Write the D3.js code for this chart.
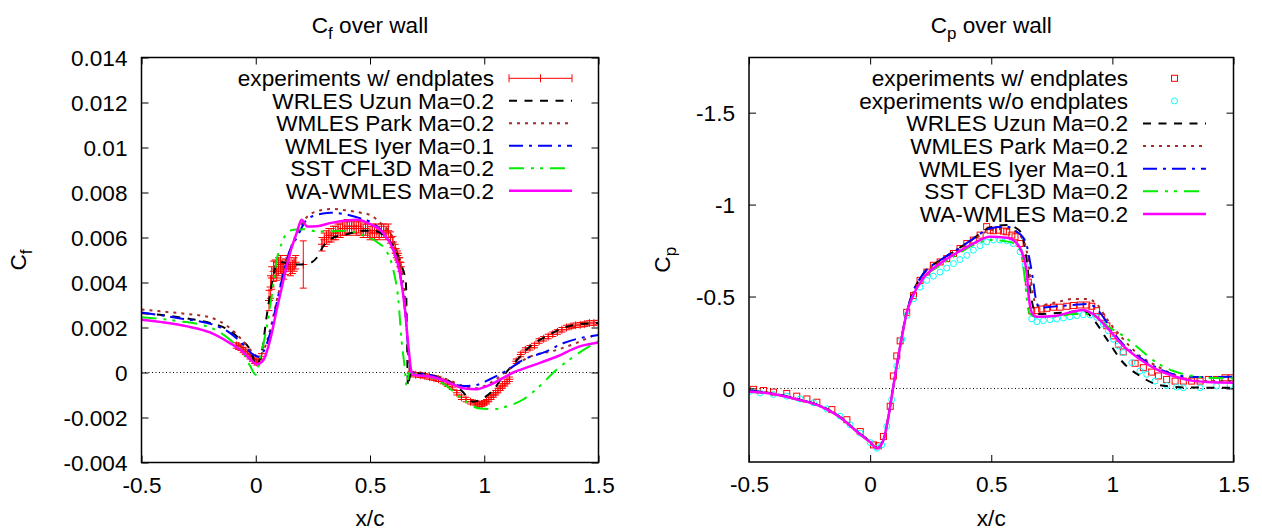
<!DOCTYPE html>
<html>
<head>
<meta charset="utf-8">
<script src="https://cdn.jsdelivr.net/npm/d3@7"></script>
<style>
  html, body { margin: 0; padding: 0; background: #fff; }
  svg { display: block; font-family: "Liberation Sans", Arial, Helvetica, sans-serif; }
</style>
</head>
<body>
<svg id="chart" width="1262" height="532"></svg>
<script>
// ---------- axis ticks ----------
const xTickValues = [-0.5, 0, 0.5, 1, 1.5];
const xTickLabels = ["-0.5", "0", "0.5", "1", "1.5"];
const cfTickValues = [-0.004, -0.002, 0, 0.002, 0.004, 0.006, 0.008, 0.01, 0.012, 0.014];
const cfTickLabels = ["-0.004", "-0.002", "0", "0.002", "0.004", "0.006", "0.008", "0.01", "0.012", "0.014"];
const cpTickValues = [-1.5, -1, -0.5, 0];
const cpTickLabels = ["-1.5", "-1", "-0.5", "0"];

// ---------- legend labels ----------
const cfLegend = ["experiments w/ endplates", "WRLES Uzun Ma=0.2", "WMLES Park Ma=0.2",
                  "WMLES Iyer Ma=0.1", "SST CFL3D Ma=0.2", "WA-WMLES Ma=0.2"];
const cpLegend = ["experiments w/ endplates", "experiments w/o endplates", "WRLES Uzun Ma=0.2",
                  "WMLES Park Ma=0.2", "WMLES Iyer Ma=0.1", "SST CFL3D Ma=0.2", "WA-WMLES Ma=0.2"];

// ---------- skin friction, Cf(x/c) ----------
// experiments w/ endplates: [x/c, Cf, error]
const cfExp = [
  [-0.085,0.00120,0.00012],[-0.075,0.00115,0.00012],[-0.065,0.00110,0.00012],[-0.055,0.00100,0.00012],
  [-0.045,0.00092,0.00012],[-0.035,0.00082,0.00012],[-0.025,0.00072,0.00012],[-0.015,0.00062,0.00012],
  [-0.005,0.00052,0.00012],[0.005,0.00045,0.00012],[0.015,0.00058,0.00012],[0.025,0.00072,0.00012],
  [0.058,0.00320,0.00045],[0.065,0.00380,0.00050],[0.070,0.00420,0.00050],[0.078,0.00450,0.00045],
  [0.085,0.00460,0.00040],[0.092,0.00450,0.00040],[0.100,0.00470,0.00040],[0.108,0.00480,0.00040],
  [0.115,0.00460,0.00040],[0.122,0.00450,0.00035],[0.130,0.00470,0.00035],[0.138,0.00490,0.00030],
  [0.145,0.00480,0.00030],[0.152,0.00460,0.00030],[0.160,0.00470,0.00030],[0.168,0.00480,0.00030],
  [0.175,0.00490,0.00030],[0.208,0.00480,0.00105],
  [0.290,0.00570,0.00030],[0.300,0.00590,0.00030],[0.310,0.00600,0.00030],[0.320,0.00610,0.00030],
  [0.330,0.00610,0.00030],[0.340,0.00620,0.00030],[0.350,0.00620,0.00030],[0.360,0.00630,0.00030],
  [0.370,0.00630,0.00030],[0.380,0.00640,0.00030],[0.390,0.00640,0.00030],[0.400,0.00650,0.00030],
  [0.410,0.00640,0.00030],[0.420,0.00650,0.00030],[0.430,0.00650,0.00030],[0.440,0.00640,0.00030],
  [0.450,0.00650,0.00030],[0.460,0.00640,0.00030],[0.470,0.00630,0.00030],[0.480,0.00640,0.00030],
  [0.490,0.00630,0.00030],[0.500,0.00620,0.00030],[0.510,0.00630,0.00030],[0.520,0.00620,0.00030],
  [0.530,0.00630,0.00030],[0.540,0.00620,0.00030],[0.550,0.00630,0.00030],[0.560,0.00630,0.00030],
  [0.570,0.00620,0.00030],[0.580,0.00630,0.00030],[0.590,0.00600,0.00025],[0.600,0.00580,0.00025],
  [0.610,0.00550,0.00020],[0.615,0.00530,0.00020],[0.620,0.00520,0.00020],[0.625,0.00510,0.00020],
  [0.630,0.00490,0.00020],[0.635,0.00470,0.00020],
  [0.680,-0.00005,0.0001],[0.700,-0.00010,0.0001],[0.720,-0.00012,0.0001],[0.740,-0.00015,0.0001],
  [0.760,-0.00020,0.0001],[0.780,-0.00025,0.0001],[0.800,-0.00030,0.0001],[0.820,-0.00040,0.0001],
  [0.840,-0.00052,0.0001],[0.860,-0.00065,0.0001],[0.880,-0.00090,0.0001],[0.900,-0.00110,0.0001],
  [0.920,-0.00120,0.0001],[0.940,-0.00130,0.0001],[0.960,-0.00135,0.0001],[0.970,-0.00140,0.0001],
  [0.980,-0.00142,0.0001],[0.990,-0.00140,0.0001],[1.000,-0.00135,0.0001],[1.010,-0.00130,0.0001],
  [1.020,-0.00120,0.0001],[1.030,-0.00110,0.0001],[1.040,-0.00100,0.0001],[1.050,-0.00090,0.0001],
  [1.060,-0.00080,0.0001],[1.070,-0.00070,0.0001],[1.080,-0.00060,0.0001],[1.090,-0.00050,0.0001],
  [1.100,-0.00040,0.0001],[1.110,-0.00030,0.0001],
  [1.140,0.00050,0.0001],[1.160,0.00080,0.0001],[1.180,0.00100,0.0001],[1.200,0.00110,0.0001],
  [1.220,0.00120,0.0001],[1.240,0.00140,0.0001],[1.260,0.00150,0.0001],[1.280,0.00160,0.0001],
  [1.300,0.00170,0.0001],[1.320,0.00180,0.0001],[1.340,0.00190,0.0001],[1.360,0.00200,0.0001],
  [1.380,0.00205,0.0001],[1.400,0.00210,0.0001],[1.420,0.00212,0.0001],[1.440,0.00215,0.0001],
  [1.460,0.00220,0.0001],[1.480,0.00220,0.0001],[1.500,0.00222,0.0001]
];
const cfUzun = [
  [-0.5,0.00264],[-0.4,0.00254],[-0.3,0.0024],[-0.2,0.0022],[-0.12,0.0019],[-0.06,0.0014],
  [-0.03,0.0011],[-0.01,0.0006],[0.0,0.00025],[0.015,0.0005],[0.03,0.0011],[0.045,0.0023],
  [0.06,0.0033],[0.077,0.0043],[0.095,0.0049],[0.12,0.0049],[0.15,0.0048],[0.2,0.0048],
  [0.245,0.0049],[0.267,0.0051],[0.295,0.0056],[0.34,0.006],[0.38,0.0061],[0.42,0.0062],
  [0.47,0.0063],[0.52,0.0063],[0.56,0.0061],[0.59,0.0058],[0.617,0.0053],[0.64,0.0047],
  [0.657,0.004],[0.662,0.0015],[0.666,-0.0006],[0.672,-0.0003],[0.68,0.0],[0.75,-0.0001],
  [0.8,-0.0002],[0.85,-0.0004],[0.9,-0.0008],[0.952,-0.0013],[0.996,-0.00114],[1.04,-0.00077],
  [1.08,-0.0002],[1.13,0.0004],[1.2,0.00116],[1.27,0.0016],[1.35,0.002],[1.42,0.00215],[1.5,0.0022]
];
const cfPark = [
  [-0.5,0.0028],[-0.4,0.0027],[-0.3,0.0026],[-0.2,0.00245],[-0.112,0.00197],[-0.054,0.00138],
  [-0.01,0.00086],[0.012,0.0007],[0.035,0.001],[0.063,0.0019],[0.092,0.0032],[0.136,0.005],
  [0.18,0.0062],[0.223,0.0069],[0.28,0.0072],[0.33,0.00727],[0.4,0.0072],[0.46,0.0071],
  [0.5,0.007],[0.53,0.0068],[0.56,0.0065],[0.59,0.0062],[0.615,0.0055],[0.64,0.0044],
  [0.657,0.0028],[0.667,0.0008],[0.675,0.0],[0.75,-0.0001],[0.835,-0.0003],[0.908,-0.0006],
  [0.966,-0.0007],[1.025,-0.00047],[1.127,0.00027],[1.2,0.0007],[1.316,0.001],[1.4,0.0013],[1.5,0.00175]
];
const cfIyer = [
  [-0.5,0.00267],[-0.33,0.0024],[-0.18,0.0021],[-0.112,0.00175],[-0.054,0.00123],[-0.01,0.00078],
  [0.012,0.0007],[0.034,0.00093],[0.063,0.00175],[0.092,0.0031],[0.121,0.0044],[0.15,0.00545],
  [0.18,0.006],[0.223,0.0068],[0.267,0.007],[0.325,0.0071],[0.383,0.00705],[0.456,0.00686],
  [0.5,0.0067],[0.558,0.0062],[0.602,0.00545],[0.631,0.0044],[0.653,0.0028],[0.672,0.00056],
  [0.682,0.0],[0.76,-0.0001],[0.835,-0.0004],[0.908,-0.0006],[0.966,-0.00055],[1.025,-0.0003],
  [1.1,0.0001],[1.17,0.00056],[1.27,0.00093],[1.345,0.0013],[1.5,0.00167]
];
const cfSst = [
  [-0.5,0.00246],[-0.35,0.0023],[-0.2,0.002],[-0.112,0.00145],[-0.054,0.00086],[-0.025,0.0003],
  [0.0,-0.0001],[0.02,0.0007],[0.048,0.002],[0.07,0.0034],[0.092,0.005],[0.114,0.00575],
  [0.136,0.0062],[0.165,0.00634],[0.21,0.00637],[0.267,0.00627],[0.325,0.00627],[0.398,0.0063],
  [0.47,0.0061],[0.53,0.0058],[0.573,0.00538],[0.602,0.00456],[0.624,0.00323],[0.638,0.00145],
  [0.653,0.00012],[0.66,-0.0006],[0.672,0.0],[0.69,-0.00006],[0.762,-0.00018],[0.835,-0.0006],
  [0.908,-0.0012],[0.98,-0.0016],[1.04,-0.00163],[1.1,-0.0015],[1.17,-0.0012],[1.243,-0.0006],
  [1.316,0.00012],[1.39,0.0007],[1.46,0.00116],[1.5,0.00138]
];
const cfWa = [
  [-0.5,0.00234],[-0.4,0.00222],[-0.3,0.00205],[-0.2,0.00178],[-0.12,0.00135],[-0.06,0.00095],
  [-0.025,0.0006],[0.004,0.00037],[0.034,0.00056],[0.063,0.00145],[0.092,0.0028],[0.121,0.0041],
  [0.15,0.0053],[0.179,0.0062],[0.201,0.00679],[0.215,0.0066],[0.223,0.00649],[0.267,0.0065],
  [0.325,0.00664],[0.398,0.00676],[0.442,0.00679],[0.5,0.0066],[0.558,0.0062],[0.602,0.00545],
  [0.631,0.0044],[0.653,0.0028],[0.668,0.00116],[0.682,0.0],[0.69,-0.0001],[0.762,-0.00018],
  [0.835,-0.0004],[0.908,-0.0007],[0.966,-0.00074],[1.025,-0.00055],[1.127,0.0],[1.2,0.00027],
  [1.316,0.0007],[1.418,0.00116],[1.5,0.00133]
];

// ---------- pressure coefficient, Cp(x/c) ----------
const cpExpWith = [
  [-0.481,0.005],[-0.44,0.011],[-0.399,0.02],[-0.344,0.027],[-0.303,0.042],[-0.261,0.057],
  [-0.22,0.075],[-0.158,0.115],[-0.096,0.17],[-0.041,0.234],[0.014,0.307],[0.034,0.312],
  [0.055,0.261],[0.083,0.097],[0.096,-0.068],[0.11,-0.177],[0.124,-0.259],[0.151,-0.414],
  [0.179,-0.505],[0.206,-0.588],[0.234,-0.633],[0.261,-0.67],[0.289,-0.688],[0.316,-0.706],
  [0.344,-0.734],[0.371,-0.761],[0.399,-0.788],[0.426,-0.807],[0.454,-0.834],[0.481,-0.88],
  [0.495,-0.861],[0.509,-0.858],[0.53,-0.861],[0.55,-0.856],[0.564,-0.852],[0.585,-0.834],
  [0.598,-0.825],[0.619,-0.788],[0.64,-0.706],[0.653,-0.578],[0.667,-0.423],[0.688,-0.423],
  [0.708,-0.432],[0.729,-0.436],[0.757,-0.442],[0.784,-0.442],[0.812,-0.447],[0.839,-0.451],
  [0.867,-0.454],[0.894,-0.454],[0.915,-0.447],[0.935,-0.423],[0.956,-0.387],[0.977,-0.341],
  [1.004,-0.286],[1.025,-0.241],[1.045,-0.199],[1.094,-0.137],[1.128,-0.113],[1.162,-0.089],
  [1.19,-0.068],[1.224,-0.049],[1.259,-0.04],[1.293,-0.04],[1.327,-0.04],[1.362,-0.04],
  [1.396,-0.049],[1.43,-0.049],[1.465,-0.058],[1.492,-0.058]
];
const cpExpWithout = [
  [-0.495,0.015],[-0.454,0.024],[-0.399,0.033],[-0.344,0.042],[-0.289,0.057],[-0.234,0.078],
  [-0.179,0.111],[-0.124,0.151],[-0.083,0.197],[-0.041,0.243],[0.0,0.294],[0.028,0.325],
  [0.048,0.307],[0.069,0.206],[0.089,0.06],[0.11,-0.122],[0.131,-0.268],[0.151,-0.396],
  [0.179,-0.487],[0.206,-0.551],[0.234,-0.588],[0.261,-0.611],[0.289,-0.633],[0.316,-0.655],
  [0.344,-0.679],[0.371,-0.701],[0.399,-0.724],[0.426,-0.752],[0.454,-0.776],[0.481,-0.797],
  [0.509,-0.807],[0.536,-0.807],[0.564,-0.803],[0.591,-0.788],[0.619,-0.743],[0.64,-0.67],
  [0.653,-0.542],[0.667,-0.378],[0.688,-0.363],[0.715,-0.369],[0.743,-0.374],[0.77,-0.378],
  [0.798,-0.383],[0.825,-0.39],[0.853,-0.396],[0.88,-0.401],[0.908,-0.4],[0.935,-0.387],
  [0.963,-0.35],[0.983,-0.314],[1.004,-0.268],[1.025,-0.232],[1.045,-0.195],[1.08,-0.14],
  [1.114,-0.095],[1.142,-0.077],[1.176,-0.04],[1.224,-0.016],[1.265,-0.007],[1.293,-0.004],
  [1.362,-0.004],[1.43,-0.013],[1.486,-0.018]
];
const cpUzun = [
  [-0.5,0.012],[-0.4,0.028],[-0.3,0.058],[-0.2,0.098],[-0.124,0.155],[-0.055,0.233],[0.0,0.29],
  [0.028,0.325],[0.055,0.28],[0.076,0.15],[0.096,-0.013],[0.124,-0.23],[0.151,-0.414],
  [0.179,-0.53],[0.22,-0.625],[0.289,-0.697],[0.358,-0.755],[0.426,-0.815],[0.495,-0.875],
  [0.564,-0.889],[0.605,-0.87],[0.626,-0.84],[0.646,-0.7],[0.66,-0.54],[0.674,-0.44],
  [0.695,-0.405],[0.77,-0.41],[0.839,-0.418],[0.88,-0.423],[0.92,-0.378],[0.977,-0.268],
  [1.045,-0.14],[1.114,-0.068],[1.183,-0.022],[1.252,-0.009],[1.32,-0.005],[1.5,-0.004]
];
const cpPark = [
  [-0.5,0.012],[-0.4,0.028],[-0.3,0.058],[-0.2,0.098],[-0.124,0.155],[-0.055,0.233],[0.0,0.29],
  [0.028,0.325],[0.055,0.28],[0.076,0.15],[0.096,-0.013],[0.124,-0.23],[0.151,-0.414],
  [0.179,-0.525],[0.22,-0.62],[0.289,-0.69],[0.358,-0.75],[0.426,-0.81],[0.495,-0.86],
  [0.564,-0.87],[0.605,-0.85],[0.626,-0.82],[0.646,-0.75],[0.66,-0.62],[0.674,-0.5],
  [0.69,-0.45],[0.77,-0.469],[0.839,-0.487],[0.894,-0.487],[0.935,-0.46],[0.977,-0.378],
  [1.045,-0.268],[1.114,-0.177],[1.183,-0.122],[1.252,-0.077],[1.32,-0.049],[1.389,-0.04],[1.5,-0.04]
];
const cpIyer = [
  [-0.5,0.012],[-0.4,0.028],[-0.3,0.058],[-0.2,0.098],[-0.124,0.155],[-0.055,0.233],[0.0,0.29],
  [0.028,0.325],[0.055,0.28],[0.076,0.15],[0.096,-0.013],[0.124,-0.23],[0.151,-0.414],
  [0.179,-0.53],[0.22,-0.625],[0.289,-0.697],[0.358,-0.755],[0.426,-0.815],[0.495,-0.87],
  [0.564,-0.88],[0.605,-0.852],[0.626,-0.83],[0.646,-0.78],[0.66,-0.69],[0.674,-0.578],
  [0.684,-0.487],[0.7,-0.44],[0.77,-0.447],[0.839,-0.454],[0.894,-0.46],[0.92,-0.45],
  [0.948,-0.414],[0.977,-0.36],[1.004,-0.305],[1.045,-0.24],[1.114,-0.168],[1.183,-0.113],
  [1.252,-0.077],[1.32,-0.064],[1.389,-0.062],[1.5,-0.064]
];
const cpSst = [
  [-0.5,0.018],[-0.4,0.032],[-0.3,0.062],[-0.2,0.102],[-0.124,0.158],[-0.055,0.236],[0.0,0.293],
  [0.028,0.325],[0.055,0.28],[0.076,0.15],[0.096,-0.013],[0.124,-0.23],[0.151,-0.41],
  [0.179,-0.51],[0.22,-0.6],[0.289,-0.67],[0.358,-0.728],[0.426,-0.78],[0.495,-0.807],
  [0.564,-0.8],[0.605,-0.78],[0.626,-0.715],[0.64,-0.58],[0.65,-0.45],[0.66,-0.405],
  [0.688,-0.39],[0.77,-0.392],[0.839,-0.405],[0.894,-0.405],[0.935,-0.387],[0.977,-0.341],
  [1.045,-0.286],[1.114,-0.213],[1.183,-0.14],[1.252,-0.095],[1.32,-0.071],[1.389,-0.058],[1.5,-0.055]
];
const cpWa = [
  [-0.5,0.016],[-0.4,0.03],[-0.3,0.06],[-0.2,0.1],[-0.124,0.157],[-0.055,0.235],[0.0,0.292],
  [0.028,0.325],[0.055,0.28],[0.076,0.15],[0.096,-0.013],[0.124,-0.23],[0.151,-0.41],
  [0.179,-0.51],[0.22,-0.6],[0.289,-0.68],[0.358,-0.738],[0.426,-0.788],[0.495,-0.825],
  [0.564,-0.82],[0.605,-0.79],[0.626,-0.743],[0.646,-0.633],[0.656,-0.487],[0.667,-0.414],
  [0.688,-0.39],[0.77,-0.396],[0.839,-0.418],[0.88,-0.427],[0.92,-0.405],[0.977,-0.332],
  [1.045,-0.232],[1.114,-0.159],[1.183,-0.104],[1.252,-0.068],[1.32,-0.044],[1.389,-0.035],[1.5,-0.031]
];

// ---------- line styles ----------
const lineStyles = {
  uzun: { color: "#000000", width: 2,   dash: "8,7.5" },
  park: { color: "#a52a2a", width: 2,   dash: "3,5" },
  iyer: { color: "#0000ff", width: 2,   dash: "14,6,3,6" },
  sst:  { color: "#00ee00", width: 2,   dash: "15,7,3,6,3,7" },
  wa:   { color: "#ff00ff", width: 2.5, dash: null }
};
const EXP_RED = "#ff0000";
const EXP_CYAN = "#00ffff";
const FONT = 22.6;

const svg = d3.select("#chart");

function subscriptText(sel, main, sub, rest) {
  sel.append("tspan").text(main);
  sel.append("tspan").attr("font-size", FONT * 0.75).attr("dy", 6).text(sub);
  if (rest) sel.append("tspan").attr("dy", -6).text(rest);
}

function panel(opt) {
  const g = svg.append("g");
  const x = d3.scaleLinear().domain([-0.5, 1.5]).range([opt.left, opt.right]);
  const y = d3.scaleLinear().domain(opt.yDomain).range([opt.bottom, opt.top]);

  const clipId = "clip-" + opt.id;
  svg.append("clipPath").attr("id", clipId).append("rect")
    .attr("x", opt.left).attr("y", opt.top)
    .attr("width", opt.right - opt.left).attr("height", opt.bottom - opt.top);
  const plot = g.append("g").attr("clip-path", `url(#${clipId})`);

  // zero axis
  plot.append("line")
    .attr("x1", opt.left).attr("x2", opt.right)
    .attr("y1", y(0)).attr("y2", y(0))
    .attr("stroke", "#000").attr("stroke-width", 1).attr("stroke-dasharray", "1,2.5");

  // ticks on all four sides, pointing inward
  const fmtX = (d, i) => xTickLabels[i];
  const fmtY = (d, i) => opt.yLabels[i];
  const axB = g.append("g").attr("transform", `translate(0,${opt.bottom})`)
    .call(d3.axisBottom(x).tickValues(xTickValues).tickFormat(fmtX).tickSizeInner(-7).tickSizeOuter(0).tickPadding(14));
  const axT = g.append("g").attr("transform", `translate(0,${opt.top})`)
    .call(d3.axisTop(x).tickValues(xTickValues).tickFormat("").tickSizeInner(-7).tickSizeOuter(0));
  const axL = g.append("g").attr("transform", `translate(${opt.left},0)`)
    .call(d3.axisLeft(y).tickValues(opt.yTicks).tickFormat(fmtY).tickSizeInner(-7).tickSizeOuter(0).tickPadding(14));
  const axR = g.append("g").attr("transform", `translate(${opt.right},0)`)
    .call(d3.axisRight(y).tickValues(opt.yTicks).tickFormat("").tickSizeInner(-7).tickSizeOuter(0));
  [axB, axT, axL, axR].forEach(a => {
    a.attr("font-size", FONT).attr("font-family", null);
    a.select(".domain").remove();
    a.selectAll("line").attr("stroke", "#000").attr("stroke-width", 1);
    a.selectAll("text").attr("fill", "#000");
  });
  axL.selectAll("text").attr("dy", "0.35em");

  // frame
  g.append("rect")
    .attr("x", opt.left).attr("y", opt.top)
    .attr("width", opt.right - opt.left).attr("height", opt.bottom - opt.top)
    .attr("fill", "none").attr("stroke", "#000").attr("stroke-width", 1.5);

  // title
  const cx = (opt.left + opt.right) / 2;
  const title = g.append("text").attr("x", cx).attr("y", 33)
    .attr("text-anchor", "middle").attr("font-size", FONT);
  subscriptText(title, "C", opt.sub, " over wall");

  // x label
  g.append("text").attr("x", cx).attr("y", 526)
    .attr("text-anchor", "middle").attr("font-size", FONT).text("x/c");

  // y label
  const yl = g.append("text")
    .attr("transform", `translate(${opt.yLabelX},${(opt.top + opt.bottom) / 2}) rotate(-90)`)
    .attr("text-anchor", "middle").attr("font-size", FONT);
  subscriptText(yl, "C", opt.sub, null);

  return { g, plot, x, y };
}

function drawLine(plot, x, y, data, style) {
  const line = d3.line().x(d => x(d[0])).y(d => y(d[1])).curve(d3.curveMonotoneX);
  plot.append("path").datum(data)
    .attr("d", line).attr("fill", "none")
    .attr("stroke", style.color).attr("stroke-width", style.width)
    .attr("stroke-dasharray", style.dash)
    .attr("stroke-linejoin", "round");
}

function legendSample(g, style, x1, x2, yy) {
  g.append("line").attr("x1", x1).attr("x2", x2).attr("y1", yy).attr("y2", yy)
    .attr("stroke", style.color).attr("stroke-width", style.width)
    .attr("stroke-dasharray", style.dash);
}

function legendText(g, xr, yy, label) {
  g.append("text").attr("x", xr).attr("y", yy).attr("dy", "0.35em")
    .attr("text-anchor", "end").attr("font-size", FONT).text(label);
}

// =================== left panel: Cf ===================
const L = panel({
  id: "cf", left: 141.5, right: 598.5, top: 57.5, bottom: 462.5,
  yDomain: [-0.004, 0.014], yTicks: cfTickValues, yLabels: cfTickLabels,
  sub: "f", yLabelX: 26
});

// experimental points with error bars
const expG = L.plot.append("g").attr("stroke", EXP_RED).attr("stroke-width", 1).attr("fill", "none");
cfExp.forEach(d => {
  const px = L.x(d[0]), py = L.y(d[1]);
  const yt = L.y(d[1] + d[2]), yb = L.y(d[1] - d[2]);
  expG.append("line").attr("x1", px).attr("x2", px).attr("y1", yt).attr("y2", yb);
  expG.append("line").attr("x1", px - 3.5).attr("x2", px + 3.5).attr("y1", yt).attr("y2", yt);
  expG.append("line").attr("x1", px - 3.5).attr("x2", px + 3.5).attr("y1", yb).attr("y2", yb);
  expG.append("line").attr("x1", px - 4).attr("x2", px + 4).attr("y1", py).attr("y2", py);
  expG.append("line").attr("x1", px).attr("x2", px).attr("y1", py - 4).attr("y2", py + 4);
});

drawLine(L.plot, L.x, L.y, cfUzun, lineStyles.uzun);
drawLine(L.plot, L.x, L.y, cfPark, lineStyles.park);
drawLine(L.plot, L.x, L.y, cfIyer, lineStyles.iyer);
drawLine(L.plot, L.x, L.y, cfSst, lineStyles.sst);
drawLine(L.plot, L.x, L.y, cfWa, lineStyles.wa);

// legend
const legL = L.g.append("g");
const cfKeyStyles = [null, lineStyles.uzun, lineStyles.park, lineStyles.iyer, lineStyles.sst, lineStyles.wa];
cfLegend.forEach((label, i) => {
  const yy = 78.3 + 22.5 * i;
  legendText(legL, 494, yy, label);
  if (i === 0) {
    const kg = legL.append("g").attr("stroke", EXP_RED).attr("stroke-width", 1);
    kg.append("line").attr("x1", 509).attr("x2", 572).attr("y1", yy).attr("y2", yy);
    kg.append("line").attr("x1", 509).attr("x2", 509).attr("y1", yy - 4).attr("y2", yy + 4);
    kg.append("line").attr("x1", 572).attr("x2", 572).attr("y1", yy - 4).attr("y2", yy + 4);
    kg.append("line").attr("x1", 540.5).attr("x2", 540.5).attr("y1", yy - 4).attr("y2", yy + 4);
  } else {
    legendSample(legL, cfKeyStyles[i], 509, 572, yy);
  }
});

// =================== right panel: Cp ===================
const R = panel({
  id: "cp", left: 749, right: 1233.5, top: 57.5, bottom: 462,
  yDomain: [0.4, -1.8], yTicks: cpTickValues, yLabels: cpTickLabels,
  sub: "p", yLabelX: 670
});

function square(g, px, py, color) {
  g.append("rect").attr("x", px - 3).attr("y", py - 3).attr("width", 6).attr("height", 6)
    .attr("fill", "none").attr("stroke", color).attr("stroke-width", 1);
}
function circle(g, px, py, color) {
  g.append("circle").attr("cx", px).attr("cy", py).attr("r", 3)
    .attr("fill", "none").attr("stroke", color).attr("stroke-width", 1);
}

const sqG = R.plot.append("g");
cpExpWith.forEach(d => square(sqG, R.x(d[0]), R.y(d[1]), EXP_RED));
const ciG = R.plot.append("g");
cpExpWithout.forEach(d => circle(ciG, R.x(d[0]), R.y(d[1]), EXP_CYAN));

drawLine(R.plot, R.x, R.y, cpUzun, lineStyles.uzun);
drawLine(R.plot, R.x, R.y, cpPark, lineStyles.park);
drawLine(R.plot, R.x, R.y, cpIyer, lineStyles.iyer);
drawLine(R.plot, R.x, R.y, cpSst, lineStyles.sst);
drawLine(R.plot, R.x, R.y, cpWa, lineStyles.wa);

const legR = R.g.append("g");
const cpKeyStyles = [null, null, lineStyles.uzun, lineStyles.park, lineStyles.iyer, lineStyles.sst, lineStyles.wa];
cpLegend.forEach((label, i) => {
  const yy = 78.3 + 22.6 * i;
  legendText(legR, 1128, yy, label);
  if (i === 0) square(legR, 1174.5, yy, EXP_RED);
  else if (i === 1) circle(legR, 1174.5, yy, EXP_CYAN);
  else legendSample(legR, cpKeyStyles[i], 1143, 1206, yy);
});
</script>
</body>
</html>
